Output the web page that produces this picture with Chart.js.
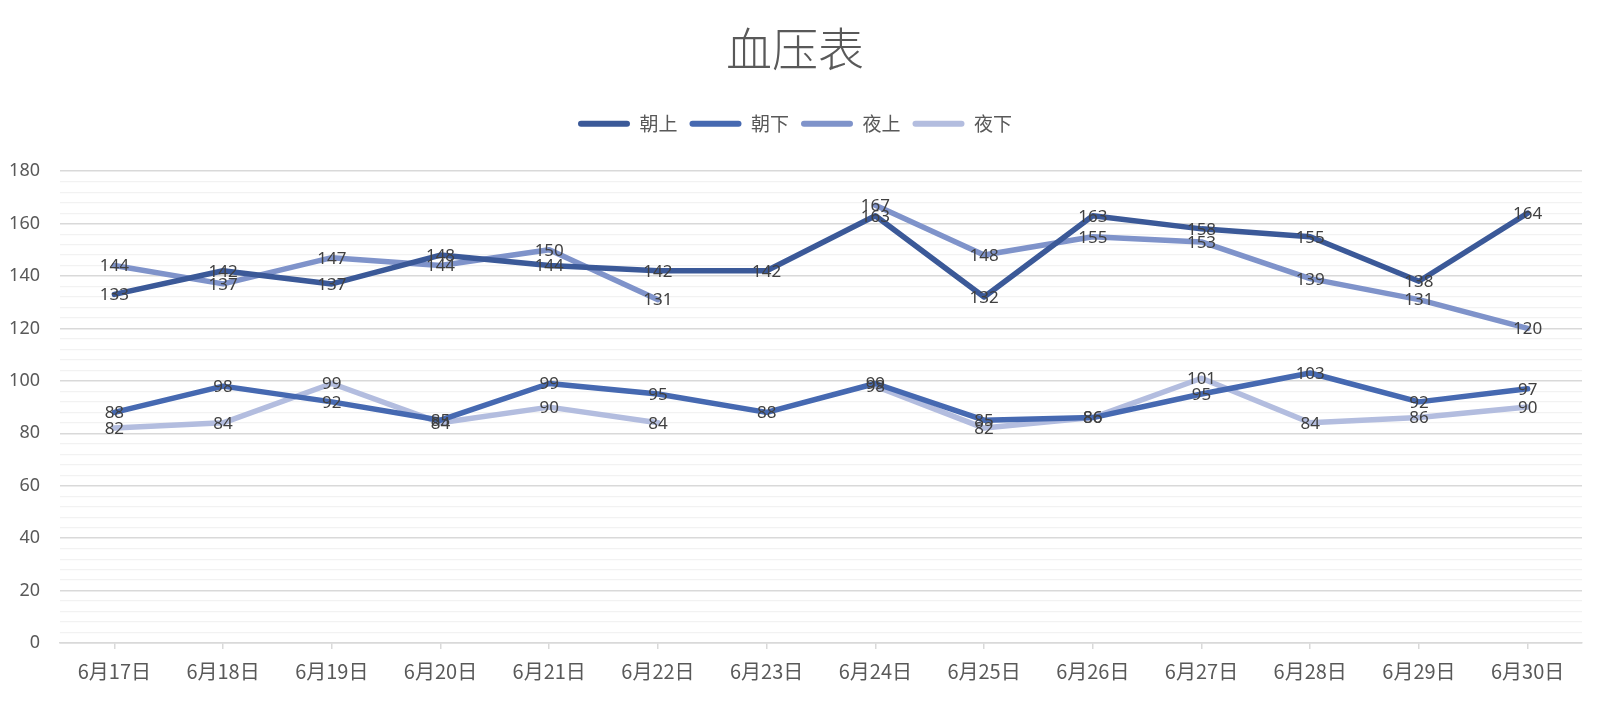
<!DOCTYPE html>
<html>
<head>
<meta charset="utf-8">
<script src="https://cdn.jsdelivr.net/npm/chart.js@4"></script>
<style>
  html, body { margin: 0; padding: 0; background: #fff; }
  #wrap { width: 1601px; height: 704px; }
</style>
</head>
<body>
<div id="wrap"><canvas id="bpChart"></canvas></div>
<script>
// blood pressure data
const dates = ['6月17日', '6月18日', '6月19日', '6月20日', '6月21日', '6月22日', '6月23日',
               '6月24日', '6月25日', '6月26日', '6月27日', '6月28日', '6月29日', '6月30日'];
const morningHigh = [133, 142, 137, 148, 144, 142, 142, 163, 132, 163, 158, 155, 138, 164];
const morningLow  = [88, 98, 92, 85, 99, 95, 88, 99, 85, 86, 95, 103, 92, 97];
const eveningHigh = [144, 137, 147, 144, 150, 131, null, 167, 148, 155, 153, 139, 131, 120];
const eveningLow  = [82, 84, 99, 84, 90, 84, null, 98, 82, 86, 101, 84, 86, 90];
const seriesNames = ['朝上', '朝下', '夜上', '夜下'];
const seriesColors = ['#3b5998', '#4669b1', '#7f93ca', '#b3bddf'];

const numFont = '"Noto Sans", "Noto Sans CJK SC", sans-serif';
const cjkFont = '"Noto Sans CJK SC", "Noto Sans", sans-serif';

// draws the value on every point, like Excel data labels
const valueLabels = {
    id: 'valueLabels',
    afterDatasetsDraw(chart) {
        const ctx = chart.ctx;
        ctx.save();
        ctx.font = '17px ' + numFont;
        ctx.fillStyle = '#404040';
        ctx.textAlign = 'center';
        ctx.textBaseline = 'middle';
        chart.data.datasets.forEach((ds, i) => {
            const meta = chart.getDatasetMeta(i);
            meta.data.forEach((pt, j) => {
                const v = ds.data[j];
                if (v === null || v === undefined) return;
                ctx.fillText(String(v), pt.x, pt.y + 1);
            });
        });
        ctx.restore();
    }
};

// extra room between the legend and the plot
const legendGap = {
    id: 'legendGap',
    beforeInit(chart) {
        const origFit = chart.legend.fit;
        chart.legend.fit = function () {
            origFit.bind(chart.legend)();
            this.height += 28;
        };
    }
};

const allSeries = [morningHigh, morningLow, eveningHigh, eveningLow];

new Chart(document.getElementById('bpChart'), {
    type: 'line',
    data: {
        labels: dates,
        datasets: allSeries.map((values, i) => ({
            label: seriesNames[i],
            data: values,
            borderColor: seriesColors[i],
            backgroundColor: seriesColors[i],
            borderWidth: 5.5,
            pointRadius: 0,
            pointHoverRadius: 0,
            tension: 0,
            spanGaps: false,
            borderCapStyle: 'round',
            borderJoinStyle: 'round'
        }))
    },
    options: {
        responsive: true,
        maintainAspectRatio: false,
        animation: false,
        layout: { padding: { left: 8, right: 19, top: 0, bottom: 11 } },
        plugins: {
            title: {
                display: true,
                text: '血压表',
                color: '#595959',
                font: { family: cjkFont, size: 46, weight: '300' },
                padding: { top: 21, bottom: 26 }
            },
            legend: {
                position: 'top',
                labels: {
                    color: '#595959',
                    font: { family: cjkFont, size: 19 },
                    boxWidth: 52,
                    boxHeight: 6,
                    useBorderRadius: true,
                    borderRadius: 3,
                    padding: 12,
                    generateLabels(chart) {
                        return chart.data.datasets.map((ds, i) => ({
                            text: ds.label,
                            fillStyle: ds.borderColor,
                            strokeStyle: ds.borderColor,
                            lineWidth: 0,
                            fontColor: '#595959',
                            datasetIndex: i,
                            borderRadius: 3
                        }));
                    }
                }
            },
            tooltip: { enabled: false }
        },
        scales: {
            x: {
                offset: true,
                grid: {
                    display: true,
                    drawOnChartArea: false,
                    drawTicks: true,
                    tickLength: 6,
                    color: '#d9d9d9',
                    lineWidth: 1.5
                },
                border: { color: '#d9d9d9', width: 1.5 },
                ticks: {
                    color: '#595959',
                    font: { family: cjkFont, size: 20 },
                    padding: 10,
                    maxRotation: 0,
                    autoSkip: false
                }
            },
            y: {
                min: 0,
                max: 180,
                afterFit(scale) { scale.width = 52; },
                grid: {
                    drawTicks: false,
                    color: ctx => (ctx.tick && ctx.tick.value % 20 === 0) ? '#d9d9d9' : '#f2f2f2',
                    lineWidth: ctx => (ctx.tick && ctx.tick.value % 20 === 0) ? 1.5 : 1.2
                },
                border: { display: false },
                ticks: {
                    stepSize: 4,
                    autoSkip: false,
                    color: '#595959',
                    font: { family: numFont, size: 18 },
                    padding: 20,
                    callback: v => (v % 20 === 0 ? v : '')
                }
            }
        }
    },
    plugins: [valueLabels, legendGap]
});
</script>
</body>
</html>
